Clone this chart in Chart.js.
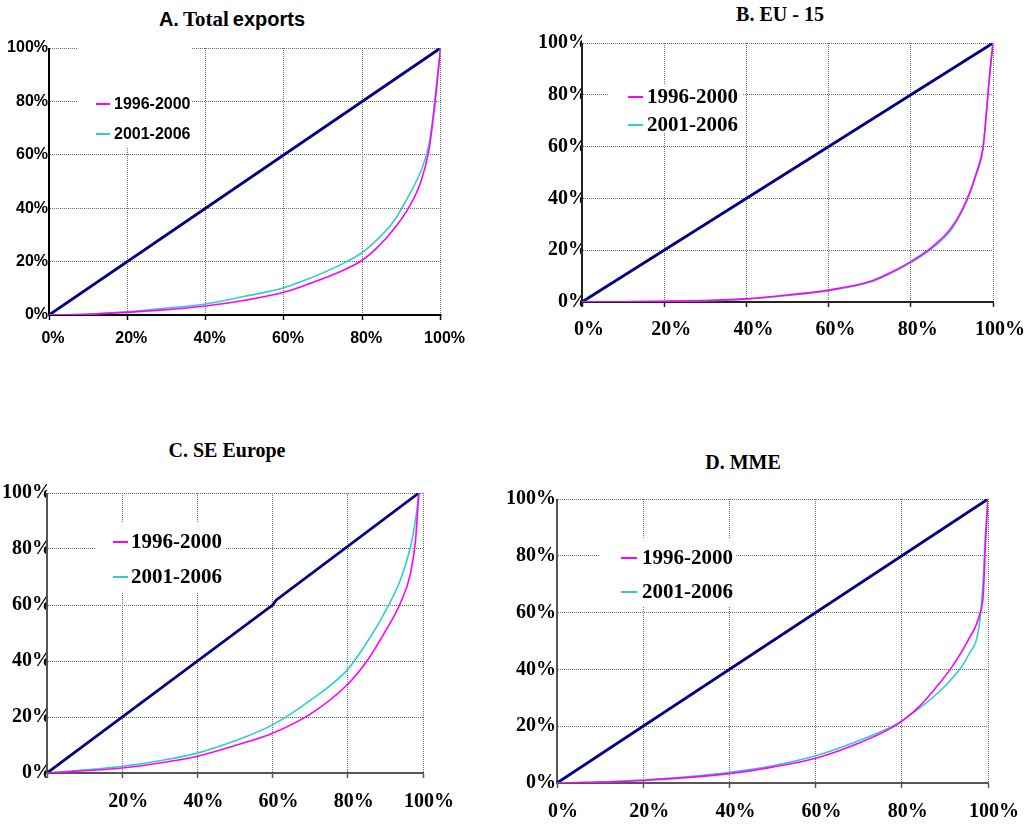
<!DOCTYPE html>
<html>
<head>
<meta charset="utf-8">
<title>Concentration curves of exports</title>
<script src="https://cdn.jsdelivr.net/npm/chart.js@4.4.1/dist/chart.umd.min.js"></script>
<style>
body{margin:0;background:#fff;width:1029px;height:825px;position:relative;overflow:hidden}
.panel{position:absolute}
.title{position:absolute;width:300px;text-align:center;font-weight:bold;line-height:24px;color:#000;white-space:nowrap}
.sans{font-family:"Liberation Sans",Arial,sans-serif}
.serif{font-family:"Liberation Serif","Times New Roman",serif}
</style>
</head>
<body>
<div class="title" style="left:82px;top:7px"><span class="sans" style="font-size:20px">A.</span> <span class="serif" style="font-size:21px">Total</span> <span class="sans" style="font-size:20px">exports</span></div>
<div class="title serif" style="left:630px;top:2px;font-size:20px">B. EU - 15</div>
<div class="title serif" style="left:77px;top:438px;font-size:20px">C. SE Europe</div>
<div class="title serif" style="left:593px;top:450px;font-size:20px">D. MME</div>

<script>
const periods = ['1996-2000', '2001-2006'];
const eqX = [0, 100];
const eqY = [0, 100];

// A. Total exports
const totalX    = [0, 10, 20, 30, 40, 50, 60, 67, 74, 80, 84, 88, 92, 95, 97, 98, 99, 100];
const total9600 = [0, 0.3, 1, 2, 3.4, 5.5, 8.5, 12, 16, 20.5, 25.5, 32, 40.5, 50, 61.5, 72, 85, 100];
const total0106 = [0, 0.4, 1.2, 2.6, 4.1, 7, 10.2, 14, 18.5, 23.4, 28.5, 35, 45, 54, 63.5, 73.5, 87, 100];

// B. EU - 15
const euX    = [0, 10, 20, 30, 40, 50, 60, 70, 75, 80, 85, 90, 93.5, 96, 97.6, 98.5, 99.2, 100];
const eu9600 = [0, 0.1, 0.3, 0.6, 1.2, 2.7, 4.6, 7.9, 11.3, 15.6, 21, 29, 39, 50, 60, 75, 88, 100];
const eu0106 = [0, 0.1, 0.3, 0.5, 1.1, 2.5, 4.4, 7.6, 11, 15.2, 20.5, 28.3, 38.5, 49.5, 59.5, 75, 88, 100];

// C. SE Europe
const seX    = [0, 10, 20, 30, 40, 50, 60, 70, 80, 85, 89.5, 94, 96.7, 98, 98.9];
const se9600 = [0, 0.8, 1.8, 3.6, 6, 9.8, 14.2, 21, 31.7, 39.8, 49.5, 60.7, 71.4, 83, 100];
const se0106 = [0, 1.1, 2.4, 4.4, 7.1, 11.5, 17.2, 25.9, 37, 46.5, 56.6, 69, 80.9, 90.4, 100];
const seEqX  = [0, 60, 61, 98.9];
const seEqY  = [0, 60, 61.8, 100];

// D. MME
const mmeX    = [0, 10, 20, 30, 40, 50, 60, 68.6, 78.5, 83.9, 87.7, 91.6, 95.4, 98.1, 98.9, 99.4, 100];
const mme9600 = [0, 0.3, 0.9, 1.9, 3.3, 5.6, 8.7, 13.2, 20.2, 26.7, 33.2, 40.8, 50.3, 59.5, 66.5, 83.8, 100];
const mme0106 = [0, 0.35, 1.1, 2.2, 3.8, 6.1, 9.6, 14.1, 20.5, 26.1, 30.8, 36.7, 44.9, 57, 72, 88, 100];

const SANS = '"Liberation Sans", Arial, sans-serif';
const SERIF = '"Liberation Serif", "Times New Roman", serif';

function pts(xs, ys){ return xs.map((x, i) => ({ x: x, y: ys[i] })); }

// white box with the two period keys, drawn inside the plot
const insideLegend = {
  id: 'insideLegend',
  afterDraw(chart, args, o){
    const ctx = chart.ctx;
    ctx.save();
    ctx.fillStyle = '#fff';
    ctx.fillRect(o.box[0], o.box[1], o.box[2], o.box[3]);
    ctx.font = o.font;
    ctx.textBaseline = 'middle';
    ctx.textAlign = 'left';
    chart.data.datasets.slice(0, 2).forEach((ds, i) => {
      const y = o.rows[i];
      ctx.strokeStyle = ds.borderColor;
      ctx.lineWidth = 2;
      ctx.beginPath();
      ctx.moveTo(o.line[0], y);
      ctx.lineTo(o.line[1], y);
      ctx.stroke();
      ctx.fillStyle = '#000';
      ctx.fillText(ds.label, o.textX, y + 1);
    });
    ctx.restore();
  }
};

// solid left and bottom axis lines
const axisLines = {
  id: 'axisLines',
  beforeDatasetsDraw(chart, args, o){
    const a = chart.chartArea, ctx = chart.ctx;
    ctx.save();
    ctx.setLineDash([]);
    ctx.strokeStyle = o.color;
    ctx.lineWidth = 2;
    ctx.beginPath();
    ctx.moveTo(a.left, a.top);
    ctx.lineTo(a.left, a.bottom);
    ctx.lineTo(a.right + 1, a.bottom);
    ctx.stroke();
    ctx.restore();
  }
};

function makePanel(p){
  const wrap = document.createElement('div');
  wrap.className = 'panel';
  wrap.style.left = p.box[0] + 'px';
  wrap.style.top = p.box[1] + 'px';
  wrap.style.width = p.box[2] + 'px';
  wrap.style.height = p.box[3] + 'px';
  const cv = document.createElement('canvas');
  wrap.appendChild(cv);
  document.body.appendChild(wrap);

  const yW = p.area[0] - p.box[0];
  const xH = p.box[1] + p.box[3] - p.area[3];
  const tickFont = { family: p.family, size: p.size, weight: 'bold' };
  const grid = { color: '#6e6e6e', lineWidth: 1 };

  new Chart(cv, {
    type: 'line',
    data: { datasets: [
      { label: periods[0], data: pts(p.x, p.a), borderColor: '#ff00ff', borderWidth: 1.6 },
      { label: periods[1], data: pts(p.x, p.b), borderColor: '#33cccc', borderWidth: 1.6 },
      { label: 'equal', data: pts(p.eqX, p.eqY), borderColor: '#000080', borderWidth: 2.8,
        cubicInterpolationMode: 'default', tension: 0 }
    ]},
    options: {
      responsive: true, maintainAspectRatio: false, animation: false,
      layout: { autoPadding: false, padding: {
        left: 0, top: p.area[1] - p.box[1], right: p.box[0] + p.box[2] - p.area[2], bottom: 0 } },
      elements: { point: { radius: 0 }, line: { cubicInterpolationMode: 'monotone', fill: false } },
      plugins: {
        legend: { display: false }, tooltip: { enabled: false }, title: { display: false },
        insideLegend: p.legend,
        axisLines: { color: p.axisColor }
      },
      scales: {
        x: {
          type: 'linear', min: 0, max: 100,
          afterFit: s => { s.height = xH; },
          ticks: { stepSize: 20, color: '#000', font: tickFont, padding: p.xPad, labelOffset: p.xShift,
                   maxRotation: 0, autoSkip: false,
                   callback: v => (p.hideZero && v === 0) ? '' : v + '%' },
          grid: Object.assign({ drawTicks: true, tickLength: 5, tickColor: p.axisColor, tickWidth: 1.5, tickBorderDash: [] }, grid),
          border: { display: true, color: '#6e6e6e', width: 1, dash: [1, 1] }
        },
        y: {
          min: 0, max: 100,
          afterFit: s => { s.width = yW; },
          ticks: { stepSize: 20, color: '#000', font: tickFont, padding: p.yPad, callback: v => v + '%' },
          grid: Object.assign({ drawTicks: false }, grid),
          border: { display: true, color: '#6e6e6e', width: 1, dash: [1, 1] }
        }
      }
    },
    plugins: [insideLegend, axisLines]
  });
}

makePanel({
  box: [0, 30, 470, 330], area: [49, 48, 446, 315],
  x: totalX, a: total9600, b: total0106, eqX: eqX, eqY: eqY,
  family: SANS, size: 16, xPad: 9, xShift: 4, yPad: 1, axisColor: '#000',
  legend: { box: [78, 18, 114, 100], rows: [74, 104], line: [96, 110], textX: 114, font: 'bold 16px ' + SANS }
});
makePanel({
  box: [515, 25, 514, 330], area: [582, 43, 993, 302],
  x: euX, a: eu9600, b: eu0106, eqX: eqX, eqY: eqY,
  family: SERIF, size: 20, xPad: 11, xShift: 7, yPad: -6, axisColor: '#222',
  legend: { box: [93, 60, 134, 48], rows: [72, 100], line: [113, 128], textX: 132, font: 'bold 21px ' + SERIF }
});
makePanel({
  box: [0, 470, 470, 355], area: [47, 493, 423, 773],
  x: seX, a: se9600, b: se0106, eqX: seEqX, eqY: seEqY, hideZero: true,
  family: SERIF, size: 20, xPad: 12, xShift: 6, yPad: -5, axisColor: '#555',
  legend: { box: [95, 53, 130, 70], rows: [72, 107], line: [113, 128], textX: 131, font: 'bold 21px ' + SERIF }
});
makePanel({
  box: [500, 475, 529, 350], area: [557, 499, 988, 783],
  x: mmeX, a: mme9600, b: mme0106, eqX: eqX, eqY: eqY,
  family: SERIF, size: 20, xPad: 12, xShift: 6, yPad: 1, axisColor: '#555',
  legend: { box: [100, 63, 135, 69], rows: [83, 117], line: [121, 137], textX: 142, font: 'bold 21px ' + SERIF }
});
</script>
</body>
</html>
